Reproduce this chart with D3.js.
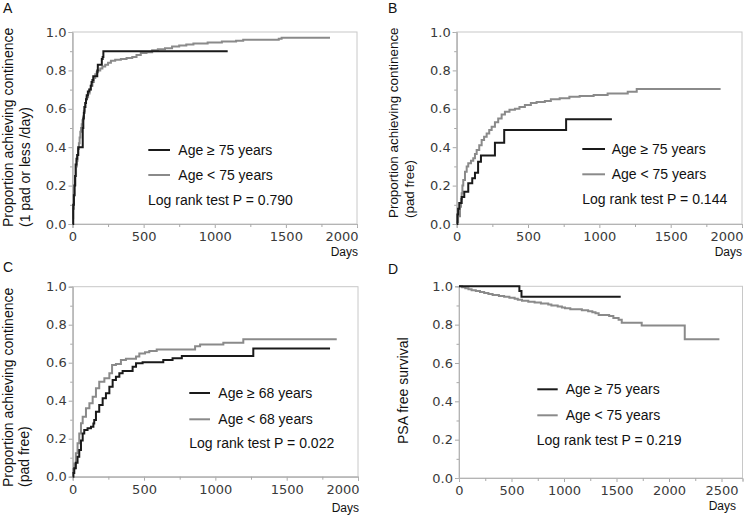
<!DOCTYPE html>
<html><head><meta charset="utf-8">
<script src="https://cdn.jsdelivr.net/npm/d3@7"></script>
<style>
html,body{margin:0;padding:0;background:#fff;}
svg{display:block;}
</style>
</head><body>
<svg id="chart" width="750" height="515"></svg>
<script>
// ---------- DATA (step points: [day, value]; last point = end of follow-up) ----------
const yTicks = [0, 0.2, 0.4, 0.6, 0.8, 1.0];
const yMinorTicks = [0.1, 0.3, 0.5, 0.7, 0.9];
const xTicksABC = [0, 500, 1000, 1500, 2000];
const xTicksD = [0, 500, 1000, 1500, 2000, 2500];

// Panel A: 1 pad or less /day
const aOld = [[0,0],[5,0.1],[10,0.15],[14,0.2],[18,0.25],[22,0.31],[28,0.34],[33,0.36],[40,0.40],[72,0.5],[76,0.55],[80,0.58],[84,0.61],[90,0.63],[95,0.65],[100,0.67],[108,0.69],[118,0.70],[128,0.72],[134,0.74],[140,0.75],[146,0.77],[174,0.80],[178,0.83],[206,0.86],[212,0.87],[217,0.90],[1091,0.90]];
const aYoung = [[0,0.03],[5,0.08],[10,0.15],[15,0.2],[20,0.25],[25,0.3],[30,0.33],[35,0.36],[40,0.39],[45,0.42],[50,0.45],[55,0.48],[60,0.5],[65,0.52],[70,0.54],[75,0.56],[80,0.59],[85,0.61],[90,0.63],[95,0.65],[100,0.66],[110,0.68],[120,0.70],[130,0.72],[140,0.74],[150,0.76],[160,0.78],[170,0.79],[180,0.80],[195,0.81],[210,0.82],[230,0.83],[250,0.84],[270,0.85],[300,0.855],[340,0.86],[380,0.865],[420,0.87],[450,0.88],[480,0.89],[520,0.895],[560,0.905],[600,0.91],[650,0.915],[700,0.925],[750,0.93],[800,0.935],[850,0.94],[950,0.945],[1050,0.95],[1150,0.955],[1200,0.96],[1450,0.965],[1470,0.97],[1810,0.97]];

// Panel B: pad free, age 75
const bOld = [[0,0],[5,0.05],[10,0.08],[18,0.11],[35,0.14],[53,0.168],[81,0.212],[109,0.238],[128,0.267],[150,0.324],[170,0.357],[268,0.423],[333,0.49],[767,0.545],[1088,0.545]];
const bYoung = [[0,0.01],[10,0.04],[23,0.09],[30,0.13],[35,0.16],[40,0.2],[46,0.229],[58,0.272],[70,0.3],[81,0.316],[100,0.33],[116,0.342],[128,0.365],[140,0.385],[158,0.41],[175,0.437],[192,0.455],[210,0.472],[228,0.49],[245,0.507],[268,0.53],[291,0.55],[315,0.57],[338,0.585],[370,0.595],[408,0.60],[440,0.61],[478,0.62],[520,0.63],[560,0.635],[618,0.64],[660,0.65],[722,0.655],[790,0.663],[862,0.667],[960,0.672],[1058,0.68],[1199,0.689],[1262,0.703],[1850,0.703]];

// Panel C: pad free, age 68
const cOld = [[0,0],[5,0.02],[11,0.044],[22,0.074],[34,0.105],[46,0.14],[58,0.19],[70,0.228],[81,0.246],[104,0.255],[128,0.263],[145,0.28],[151,0.298],[163,0.342],[186,0.377],[210,0.413],[233,0.439],[257,0.474],[280,0.509],[303,0.526],[327,0.544],[350,0.556],[420,0.579],[444,0.597],[490,0.602],[635,0.614],[700,0.623],[765,0.635],[1266,0.675],[1804,0.675]];
const cYoung = [[0,0.02],[5,0.04],[11,0.07],[22,0.123],[34,0.176],[46,0.228],[58,0.281],[70,0.316],[93,0.36],[117,0.386],[140,0.421],[163,0.465],[186,0.5],[222,0.518],[257,0.544],[276,0.588],[303,0.593],[338,0.614],[373,0.621],[444,0.632],[467,0.649],[507,0.655],[537,0.662],[589,0.67],[858,0.687],[893,0.696],[1056,0.705],[1196,0.724],[1851,0.724]];

// Panel D: PSA free survival
const dOld = [[0,1],[575,0.975],[595,0.946],[1540,0.946]];
const dYoung = [[0,1],[30,0.995],[60,0.99],[90,0.985],[120,0.98],[160,0.975],[200,0.97],[240,0.965],[280,0.96],[320,0.955],[380,0.95],[430,0.945],[480,0.94],[530,0.935],[560,0.93],[600,0.925],[660,0.92],[720,0.915],[780,0.91],[850,0.905],[880,0.9],[940,0.895],[980,0.89],[1010,0.885],[1060,0.88],[1170,0.875],[1230,0.87],[1270,0.865],[1300,0.86],[1330,0.85],[1430,0.845],[1470,0.835],[1520,0.825],[1550,0.81],[1740,0.795],[2150,0.724],[2480,0.724]];

const legendA = ["Age \u2265 75 years", "Age < 75 years"];
const legendC = ["Age \u2265 68 years", "Age < 68 years"];
const pValues = ["Log rank test P = 0.790", "Log rank test P = 0.144", "Log rank test P = 0.022", "Log rank test P = 0.219"];

// ---------- LAYOUT ----------
const panels = [
  {letter:"A", lx:3, ly:13, box:[72.5,357,32,224], xMax:2000, xTicks:xTicksABC, minorStep:250,
   title:["Proportion achieving continence","(1 pad or less /day)"], tx:[12.5,30], tyBottom:227, tfs:14,
   series:[aOld,aYoung], legend:legendA, p:pValues[0], leg:[148.3,170,178.3,150,175,148,200], days:[358,256]},
  {letter:"B", lx:388, ly:13, box:[456.7,742,32,224], xMax:2000, xTicks:xTicksABC, minorStep:250,
   title:["Proportion achieving continence","(pad free)"], tx:[397.5,414], tyBottom:218, tfs:13.4,
   series:[bOld,bYoung], legend:legendA, p:pValues[1], leg:[582.3,605,611.7,149,174.3,582.3,199.3], days:[742,256]},
  {letter:"C", lx:3, ly:272, box:[72.7,358,286.7,476.7], xMax:2000, xTicks:xTicksABC, minorStep:250,
   title:["Proportion achieving continence","(pad free)"], tx:[12.5,29], tyBottom:487, tfs:14,
   series:[cOld,cYoung], legend:legendC, p:pValues[2], leg:[189.3,210,218.3,393,419.3,189.3,442.7], days:[359,512]},
  {letter:"D", lx:388, ly:274, box:[459,742.5,286.3,478], xMax:2700, xTicks:xTicksD, minorStep:250,
   title:["PSA free survival"], tx:[408], tyBottom:444, tfs:14,
   series:[dOld,dYoung], legend:legendA, p:pValues[3], leg:[537.3,557.7,565.7,389.3,415.3,536.7,439.7], days:[736,510]}
];

const svg = d3.select("#chart");
const FONT = "'Liberation Sans', Arial, sans-serif";
const TICKFONT = "'DejaVu Sans', Verdana, sans-serif";
const colors = ["#1a1a1a", "#8a8a8a"];

panels.forEach(p => {
  const [L, R, T, B] = p.box;
  const x = d3.scaleLinear().domain([0, p.xMax]).range([L, R]);
  const y = d3.scaleLinear().domain([0, 1]).range([B, T]);
  const g = svg.append("g");

  // frame
  g.append("rect").attr("x", L).attr("y", T).attr("width", R - L).attr("height", B - T)
    .attr("fill", "none").attr("stroke", "#c8c8c8").attr("stroke-width", 1);

  // y axis
  const ya = g.append("g").attr("transform", `translate(${L},0)`)
    .call(d3.axisLeft(y).tickValues(yTicks).tickFormat(d3.format(".1f")).tickSize(4).tickPadding(2));
  const ym = g.append("g").attr("transform", `translate(${L},0)`)
    .call(d3.axisLeft(y).tickValues(yMinorTicks).tickFormat("").tickSize(2.5));
  // x axis
  const minor = d3.range(p.minorStep, p.xMax + 1, p.minorStep * 2).filter(v => v < p.xMax);
  const xa = g.append("g").attr("transform", `translate(0,${B})`)
    .call(d3.axisBottom(x).tickValues(p.xTicks).tickFormat(d3.format("d")).tickSize(4).tickPadding(4));
  const xm = g.append("g").attr("transform", `translate(0,${B})`)
    .call(d3.axisBottom(x).tickValues(minor).tickFormat("").tickSize(3));
  [ya, ym, xa, xm].forEach(a => {
    a.select(".domain").attr("stroke", "#b4b4b4");
    a.selectAll(".tick line").attr("stroke", "#a8a8a8");
    a.selectAll("text").attr("fill", "#3a3a3a").style("font-family", TICKFONT).style("font-size", "13px");
  });
  // keep last label inside the frame
  xa.selectAll(".tick text").each(function(d) {
    if (x(d) >= R - 1) d3.select(this).attr("text-anchor", "end").attr("x", 1);
  });

  // curves
  const line = d3.line().x(d => x(d[0])).y(d => y(d[1])).curve(d3.curveStepAfter);
  [1, 0].forEach(i => {
    g.append("path").datum(p.series[i]).attr("d", line)
      .attr("fill", "none").attr("stroke", colors[i]).attr("stroke-width", 2);
  });

  // legend
  const [x1, x2, tx, yy1, yy2, px, py] = p.leg;
  [yy1, yy2].forEach((yy, i) => {
    g.append("line").attr("x1", x1).attr("x2", x2).attr("y1", yy).attr("y2", yy)
      .attr("stroke", colors[i]).attr("stroke-width", 2);
    g.append("text").attr("x", tx).attr("y", yy + 5).text(p.legend[i])
      .style("font-family", FONT).style("font-size", "14px").attr("fill", "#111");
  });
  g.append("text").attr("x", px).attr("y", py + 5).text(p.p)
    .style("font-family", FONT).style("font-size", "14px").attr("fill", "#111");

  // y title
  p.title.forEach((t, i) => {
    g.append("text").attr("transform", `translate(${p.tx[i]},${p.tyBottom}) rotate(-90)`)
      .text(t).style("font-family", FONT).style("font-size", p.tfs + "px").attr("fill", "#111");
  });

  // panel letter
  g.append("text").attr("x", p.lx).attr("y", p.ly).text(p.letter)
    .style("font-family", FONT).style("font-size", "14px").attr("fill", "#111");
  // Days
  g.append("text").attr("x", p.days[0]).attr("y", p.days[1]).attr("text-anchor", "end").text("Days")
    .style("font-family", FONT).style("font-size", "12px").attr("fill", "#111");
});
</script>
</body></html>
